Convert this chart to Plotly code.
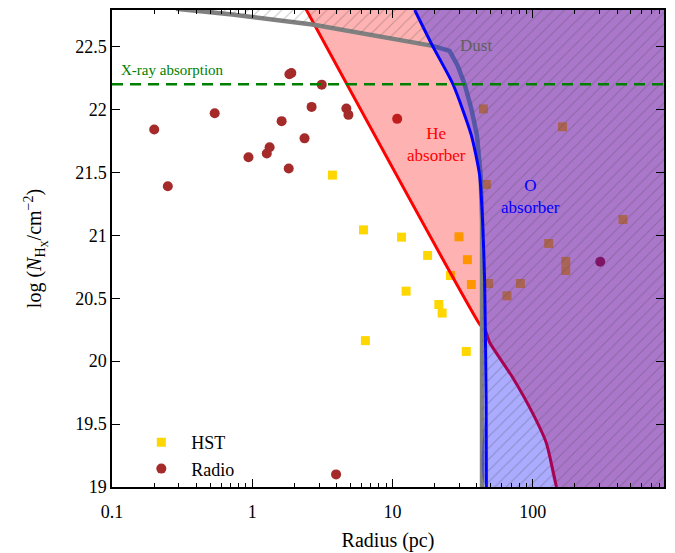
import plotly.graph_objects as go

# ---------------- data ----------------
hst_r = [3.73, 6.21, 11.6, 6.41, 17.8, 25.9, 12.5, 21.4, 22.6, 33.6,
         29.8, 34.2, 36.5,
         44.5, 46.7, 130, 440, 172, 172, 48.5, 81.7, 65.5, 163]
hst_n = [21.478, 21.043, 20.985, 20.163, 20.84, 20.68, 20.556, 20.45, 20.382, 20.077,
         20.988, 20.806, 20.609,
         22.004, 21.404, 20.935, 21.125, 20.793, 20.72, 20.617, 20.617, 20.519, 21.862]

radio_r = [0.20, 0.25, 0.54, 0.94, 1.27, 1.33, 1.62, 1.82, 2.36, 2.65, 4.69, 4.85,
           10.8, 1.84, 1.90, 3.13, 3.96, 303]
radio_n = [21.84, 21.39, 21.97, 21.62, 21.65, 21.70, 21.907, 21.53, 21.77, 22.02, 22.007, 21.957,
           21.925, 22.28, 22.29, 22.197, 19.10, 20.79]

# He absorber boundary (red line + continuation)
he_r = [2.42, 41.8, 46.1, 49.3, 71.9, 100, 125, 147.6]
he_n = [22.795, 20.294, 20.24, 20.148, 19.87, 19.585, 19.35, 19.0]

# O absorber boundary (blue line)
o_r = [14.4, 19.3, 27.0, 36.5, 41.8, 43.9, 45.4, 46.5, 46.7]
o_n = [22.79, 22.505, 22.20, 21.794, 21.478, 21.11, 20.635, 19.69, 19.0]

# Dust boundary (grey line)
dust_r = [0.286, 0.72, 2.68, 19.3, 25.5, 29.1, 32.7, 36.6, 40.0, 42.5, 43.5, 43.5]
dust_n = [22.80, 22.754, 22.675, 22.505, 22.465, 22.35, 22.20, 22.0, 21.794, 21.478, 21.11, 19.0]

xray_level = 22.2

x_min, x_max = 0.1, 863
y_min, y_max = 19.0, 22.79

x_tickvals = [0.1, 1, 10, 100]
x_ticktext = ["0.1", "1", "10", "100"]
y_tickvals = [19, 19.5, 20, 20.5, 21, 21.5, 22, 22.5]
y_ticktext = ["19", "19.5", "20", "20.5", "21", "21.5", "22", "22.5"]

FONT = "Liberation Serif, Times New Roman, DejaVu Serif, serif"

fig = go.Figure()

# markers first (fills drawn over them, tinting them)
fig.add_trace(go.Scatter(x=hst_r, y=hst_n, mode="markers", name="HST",
                         marker=dict(symbol="square", size=9, color="gold")))
fig.add_trace(go.Scatter(x=radio_r, y=radio_n, mode="markers", name="Radio",
                         marker=dict(symbol="circle", size=10, color="#a52a2a")))

# He absorber region (pink)
fig.add_trace(go.Scatter(x=he_r + [x_max, x_max], y=he_n + [y_min, y_max],
                         mode="lines", fill="toself", fillcolor="rgba(255,0,0,0.30)",
                         line=dict(width=0, shape="spline", smoothing=0.5),
                         showlegend=False, hoverinfo="skip"))
fig.add_trace(go.Scatter(x=he_r, y=he_n, mode="lines",
                         line=dict(color="red", width=3, shape="spline", smoothing=0.5),
                         showlegend=False))

# dust line
fig.add_trace(go.Scatter(x=dust_r, y=dust_n, mode="lines",
                         line=dict(color="gray", width=4.5), showlegend=False))

# O absorber region (blue)
fig.add_trace(go.Scatter(x=o_r + [x_max, x_max], y=o_n + [y_min, y_max],
                         mode="lines", fill="toself", fillcolor="rgba(0,0,255,0.33)",
                         line=dict(width=0, shape="spline", smoothing=0.6),
                         showlegend=False, hoverinfo="skip"))
fig.add_trace(go.Scatter(x=o_r, y=o_n, mode="lines",
                         line=dict(color="blue", width=3, shape="spline", smoothing=0.6),
                         showlegend=False))

# hatched dust-excluded region
fig.add_trace(go.Scatter(x=dust_r + [x_max, x_max], y=dust_n + [y_min, y_max],
                         mode="lines", fill="toself", fillcolor="rgba(0,0,0,0)",
                         fillpattern=dict(shape="/", fgcolor="rgba(70,70,70,0.6)",
                                          bgcolor="rgba(0,0,0,0)", size=8, solidity=0.14),
                         line=dict(width=0), showlegend=False, hoverinfo="skip"))

# X-ray absorption level
fig.add_trace(go.Scatter(x=[x_min, x_max], y=[xray_level, xray_level], mode="lines",
                         line=dict(color="green", width=2.5, dash="11px,7px"),
                         showlegend=False))

fig.add_annotation(x=-0.95, y=22.31, xref="x", yref="y", text="X-ray absorption",
                   showarrow=False, xanchor="left", font=dict(family=FONT, size=15, color="green"))
fig.add_annotation(x=1.593, y=22.51, xref="x", yref="y", text="Dust",
                   showarrow=False, font=dict(family=FONT, size=17, color="#606060"))
fig.add_annotation(x=1.312, y=21.72, xref="x", yref="y", text="He<br>absorber",
                   showarrow=False, font=dict(family=FONT, size=17, color="red"))
fig.add_annotation(x=1.986, y=21.31, xref="x", yref="y", text="O<br>absorber",
                   showarrow=False, font=dict(family=FONT, size=17, color="blue"))

# page body has an 8px margin, so the figure is sized to fit the window from (8,8)
fig.update_layout(
    width=667, height=545,
    margin=dict(l=104, r=11, t=0, b=66),
    plot_bgcolor="white", paper_bgcolor="white",
    font=dict(family=FONT, size=17, color="black"),
    showlegend=True,
    legend=dict(x=0.035, y=0.0, xanchor="left", yanchor="bottom", itemwidth=50,
                bgcolor="rgba(0,0,0,0)", font=dict(family=FONT, size=18)),
    xaxis=dict(type="log", range=[-1, 2.936], tickmode="array",
               tickvals=x_tickvals, ticktext=x_ticktext,
               ticks="inside", ticklen=8, tickcolor="black", ticklabelstandoff=8,
               minor=dict(ticks="inside", ticklen=4, tickcolor="black", dtick="D1", showgrid=False),
               showline=True, linecolor="black", linewidth=1.5, mirror="ticks",
               showgrid=False, zeroline=False, tickfont=dict(family=FONT, size=18),
               title=dict(text="Radius (pc)", font=dict(family=FONT, size=20), standoff=12)),
    yaxis=dict(range=[y_min, y_max], tickmode="array",
               tickvals=y_tickvals, ticktext=y_ticktext,
               ticks="inside", ticklen=8, tickcolor="black",
               showline=True, linecolor="black", linewidth=1.5, mirror="ticks",
               showgrid=False, zeroline=False, tickfont=dict(family=FONT, size=18),
               title=dict(text="log (<i>N</i><sub>H<sub>X</sub></sub>/cm<sup>−2</sup>)",
                          font=dict(family=FONT, size=20), standoff=28)),
)

fig.write_html("out.html")
